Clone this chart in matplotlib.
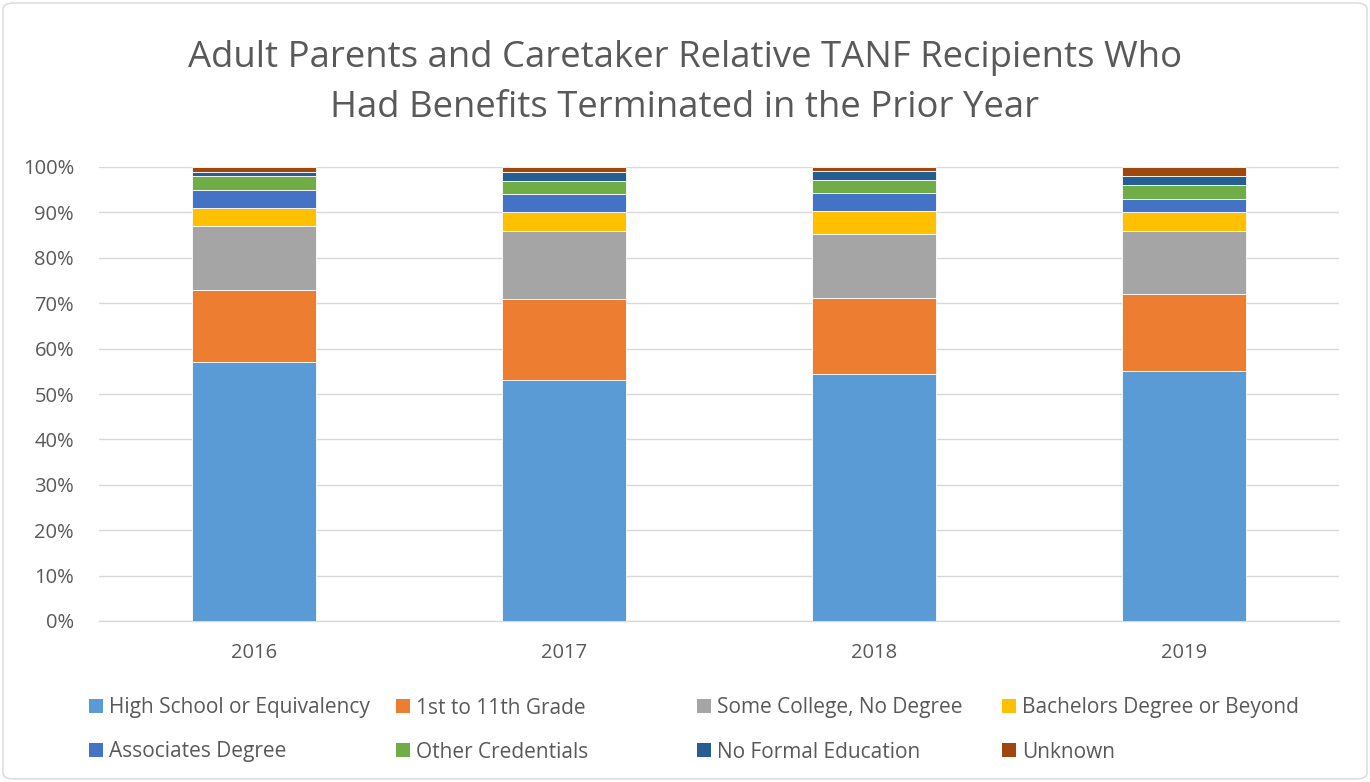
import matplotlib
matplotlib.use("Agg")
import matplotlib.pyplot as plt
from matplotlib.patches import FancyBboxPatch, Patch
from matplotlib.ticker import FuncFormatter

years = ["2016", "2017", "2018", "2019"]
series_names = ["High School or Equivalency", "1st to 11th Grade", "Some College, No Degree",
                "Bachelors Degree or Beyond", "Associates Degree", "Other Credentials",
                "No Formal Education", "Unknown"]
high_school = [57, 53, 54.5, 55]
grade_1_11 = [16, 18, 16.7, 17]
some_college = [14, 15, 14, 14]
bachelors = [4, 4, 5, 4]
associates = [4, 4, 4, 3]
other_cred = [3, 3, 3, 3]
no_formal = [1, 2, 2, 2]
unknown = [1, 1, 0.8, 2]
colors = ["#5B9BD5", "#ED7D31", "#A5A5A5", "#FFC000", "#4472C4", "#70AD47", "#255E91", "#9E480E"]

series = [high_school, grade_1_11, some_college, bachelors, associates, other_cred, no_formal, unknown]

plt.rcParams['font.family'] = ['Open Sans', 'DejaVu Sans']
W, H = 1370, 782
fig = plt.figure(figsize=(W/100, H/100), dpi=100)
ax = fig.add_axes([99/W, 1-621/H, (1339-99)/W, (621-167)/H])

x = list(range(len(years)))
bottom = [0]*len(years)
for vals, col, name in zip(series, colors, series_names):
    ax.bar(x, vals, width=0.4, bottom=bottom, color=col, edgecolor='white', linewidth=0.6, label=name, zorder=3)
    bottom = [b+v for b, v in zip(bottom, vals)]

ax.set_xlim(-0.5, len(years)-0.5)
ax.set_ylim(0, 100)
ax.set_yticks(range(0, 101, 10))
ax.yaxis.set_major_formatter(FuncFormatter(lambda v, p: f"{int(v)}%"))
ax.set_xticks(x)
ax.set_xticklabels(years)
ax.tick_params(axis='both', length=0, labelsize=14.5, colors='#595959')
ax.tick_params(axis='x', pad=16)
ax.tick_params(axis='y', pad=18)
ax.grid(axis='y', color='#D9D9D9', linewidth=1, zorder=0)
for s in ['top', 'right', 'left']:
    ax.spines[s].set_visible(False)
ax.spines['bottom'].set_color('#D9D9D9')
ax.spines['bottom'].set_linewidth(1)

fig.text(0.5, 1-58/H, "Adult Parents and Caretaker Relative TANF Recipients Who", ha='center', va='center',
         fontsize=26.3, color='#595959')
fig.text(0.5, 1-108/H, "Had Benefits Terminated in the Prior Year", ha='center', va='center',
         fontsize=26.3, color='#595959')

# legend: one entry each, placed in a 4x2 grid (row-major order)
col_x = [89, 396, 697, 1002]
row_y = [708, 752]
fs = 15
fs_px = fs * 100 / 72
for i, (c, n) in enumerate(zip(colors, series_names)):
    r, k = divmod(i, 4)
    leg = fig.legend([Patch(facecolor=c)], [n], loc='center left',
                     bbox_to_anchor=(col_x[k]/W, 1-row_y[r]/H), frameon=False, fontsize=fs,
                     handlelength=14/fs_px, handleheight=14/fs_px, handletextpad=6/fs_px,
                     borderpad=0, borderaxespad=0)
    for t in leg.get_texts():
        t.set_color('#595959')

border = FancyBboxPatch((3/W, 3/H), 1-6/W, 1-6/H, boxstyle="round,pad=0,rounding_size=0.008",
                        transform=fig.transFigure, fill=False, edgecolor='#D9D9D9', linewidth=1)
fig.patches.append(border)

fig.savefig("out.png", dpi=100, facecolor='white')
